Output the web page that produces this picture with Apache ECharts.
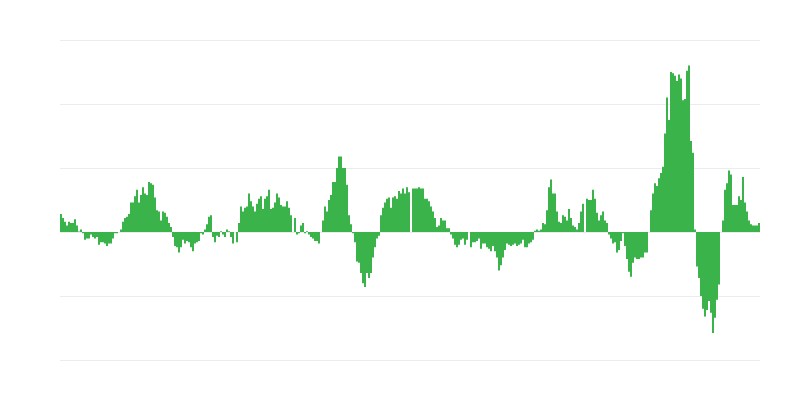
<!DOCTYPE html>
<html>
<head>
<meta charset="utf-8">
<script src="https://cdn.jsdelivr.net/npm/echarts@6/dist/echarts.min.js"></script>
<style>
html,body{margin:0;padding:0;background:#fff;}
#chart{width:800px;height:400px;}
</style>
</head>
<body>
<div id="chart"></div>
<script>
// Series values (one bar per month)
const values1 = [1.4,1.1,0.8,0.5,0.8,0.7,0.7,1.0,0.5,0.04,0.2,-0.1,-0.6,-0.5,-0.5,-0.2,-0.4,-0.5,-0.4,-1.0,-0.8,-0.8,-0.9,-1.1,-0.9,-0.9,-0.5,-0.1,-0.1,0.0,0.2,0.8,1.1,1.2,1.4,2.3,2.3,2.8,3.3,2.3,2.9,3.5,3.0,2.9,3.9,3.8,3.7,2.7,1.7,1.6,0.9,1.6,1.5,1.2,0.7,0.4,-0.4,-1.1,-1.2];
const values2 = [-1.6,-1.2,-0.6,-0.9,-0.7,-0.8,-1.2,-1.5,-0.9,-0.8,-0.7,-0.1,-0.2,0.2,0.6,1.2,1.3,-0.4,-0.8,-0.3,-0.4,0.05,-0.2,-0.4,0.2,0.05,-0.4,-0.9,0,-0.8,0.7,2.0,1.6,1.9,2.0,3.0,2.4,2.0,1.6,2.2,2.6,2.8,1.8,2.6,2.8,3.3,1.8,1.9,2.3,3.0,2.7,2.1,2.0,2.0,2.4,1.9,1.3,0];
const values3 = [1.1,-0.2,-0.1,0.5,0.7,-0.1,0.05,-0.2,-0.4,-0.5,-0.7,-0.7,-0.9,0.0,0.9,2.0,1.6,2.5,2.9,3.9,3.9,5.0,5.9,5.9,5.0,5.0,3.7,1.3,0.6,-0.1,-0.8,-2.3,-2.4,-3.2,-4.0,-4.3,-3.2,-3.6,-3.2,-2.0,-1.2,-0.5,-0.3,1.3,1.9,2.3,2.6,2.7,1.9,2.7,2.8,2.6,3.2,3.0,3.4,3.0,3.5,3.1,0];
const values4 = [3.4,3.4,3.4,3.5,3.4,3.4,2.6,2.6,2.4,2.0,1.6,1.1,0.4,0.5,1.1,0.9,0.9,0.3,0.3,-0.2,-0.5,-1.0,-1.2,-1.0,-0.6,-0.5,-1.0,-0.6,0,-1.2,-0.8,-0.8,-0.7,-0.5,-1.3,-0.9,-0.9,-1.2,-1.3,-1.5,-1.1,-1.5,-2.0,-3.0,-2.6,-2.0,-1.4,-0.9,-1.0,-1.1,-1.0,-0.9,-1.1,-1.0,-0.9,-0.6,-1.2,-1.2,-0.9,-0.8];
const values5 = [-0.6,0.1,0.2,0.1,0.2,0.7,0.6,1.7,3.5,4.1,3.0,3.0,1.6,0.8,0.7,1.3,1.2,0.9,1.8,1.1,0.5,0.4,0.2,0.7,1.6,2.2,0,2.6,2.5,2.5,3.3,2.6,1.5,0.9,1.3,1.6,0.9,0.7,-0.2,-0.5,-0.9,-0.8,-1.6,-1.4,-0.7,-0.1,-1.1,-2.1,-3.1,-3.5,-2.4,-2.0,-2.1,-2.1,-2.0,-2.0,-1.6,-1.6,0];
const values6 = [1.7,3.0,3.8,3.6,4.2,4.6,5.1,7.7,10.5,8.75,12.5,12.4,12.2,11.8,12.3,12.0,10.3,10.4,12.6,13.0,7.1,6.2,0.2,-2.7,-3.6,-5.0,-6.0,-6.6,-6.1,-5.4,-6.3,-7.9,-6.7,-5.3,-4.1,0.0,0.9,3.3,3.8,4.8,4.5,2.1,2.1,2.1,2.8,2.5,4.3,2.3,1.6,0.9,0.6,0.5,0.5,0.5,0.7];
const values = [].concat(values1, values2, values3, values4, values5, values6);

// Category labels: months
const startYear = 1994;
const categories = values.map((_, i) => (startYear + Math.floor(i / 12)) + '-' + String(i % 12 + 1).padStart(2, '0'));

// Value axis ticks
const yMin = -10, yMax = 15, yStep = 5;

const chart = echarts.init(document.getElementById('chart'), null, {renderer: 'canvas'});
chart.setOption({
  animation: false,
  backgroundColor: '#ffffff',
  grid: {left: 60, right: 40, top: 40, bottom: 40, containLabel: false},
  xAxis: {
    type: 'category',
    data: categories,
    axisLine: {show: false},
    axisTick: {show: false},
    axisLabel: {show: false},
    splitLine: {show: false}
  },
  yAxis: {
    type: 'value',
    min: yMin, max: yMax, interval: yStep,
    axisLine: {show: false},
    axisTick: {show: false},
    axisLabel: {show: false},
    splitLine: {show: true, lineStyle: {color: '#ececec', width: 1}}
  },
  series: [{
    type: 'bar',
    data: values,
    barCategoryGap: '0%',
    barGap: '0%',
    itemStyle: {color: '#39b34a'},
    large: false
  }]
});
</script>
</body>
</html>
